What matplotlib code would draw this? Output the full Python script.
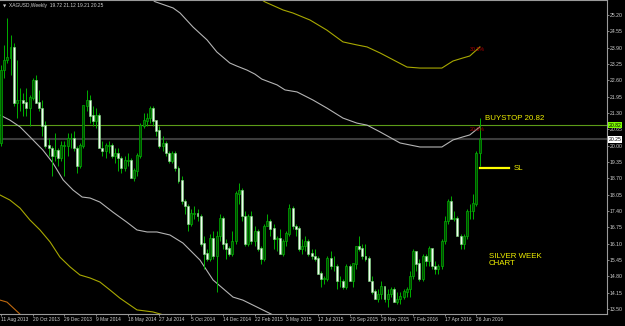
import numpy as np
import matplotlib
matplotlib.use('Agg')
import matplotlib.pyplot as plt
from matplotlib.transforms import blended_transform_factory

plt.rcParams['font.family'] = ['Liberation Sans', 'DejaVu Sans']

# weekly XAGUSD bars, first bar = week of 11 Aug 2013
opens = [20.1, 23.0, 23.4, 23.5, 23.9, 21.7, 21.8, 21.8, 21.7, 21.5,
         21.9, 22.6, 21.7, 21.5, 20.8, 20.0, 19.9, 19.6, 19.8, 19.5,
         20.0, 20.0, 20.3, 20.3, 19.9, 19.2, 20.0, 21.6, 21.8, 21.2,
         21.0, 21.2, 19.9, 19.8, 20.0, 20.0, 19.6, 19.7, 19.5, 19.1,
         19.4, 19.4, 18.7, 19.0, 19.6, 20.8, 21.0, 21.1, 21.5, 21.0,
         20.6, 20.0, 20.1, 19.7, 19.4, 19.7, 19.1, 18.6, 17.8, 17.6,
         16.9, 17.3, 17.3, 17.2, 16.1, 15.7, 15.5, 16.3, 15.6, 16.4,
         17.1, 16.1, 15.9, 15.7, 16.2, 18.1, 18.2, 17.2, 16.1, 17.2,
         16.2, 16.6, 15.9, 15.5, 16.8, 17.0, 16.7, 16.3, 16.3, 15.7,
         16.2, 16.5, 17.5, 16.8, 16.7, 15.9, 16.0, 16.2, 15.7, 15.6,
         15.5, 14.9, 14.7, 14.7, 15.5, 15.2, 15.2, 14.6, 14.6, 14.4,
         15.2, 14.6, 15.3, 16.0, 15.9, 15.6, 15.5, 14.6, 14.2, 13.9,
         14.1, 14.4, 13.9, 14.1, 14.3, 13.8, 13.9, 14.0, 14.2, 14.3,
         14.8, 15.8, 15.3, 14.7, 15.6, 15.4, 15.9, 15.2, 15.1, 15.2,
         16.2, 17.0, 17.8, 17.1, 17.1, 16.4, 16.1, 16.4, 17.4, 17.4,
         17.7, 19.72]
highs = [23.2, 24.0, 25.1, 24.4, 24.1, 23.4, 22.3, 22.1, 22.3, 22.0,
         22.7, 22.8, 22.2, 21.8, 21.0, 20.3, 20.0, 20.5, 19.9, 20.2,
         20.2, 20.5, 20.5, 20.6, 20.0, 20.1, 21.6, 22.2, 22.0, 21.6,
         21.5, 21.3, 20.2, 20.1, 20.2, 20.1, 19.9, 19.9, 19.6, 19.6,
         19.7, 19.5, 19.1, 19.7, 20.9, 21.3, 21.3, 21.6, 21.6, 21.0,
         20.8, 20.4, 20.2, 19.8, 19.8, 19.8, 19.2, 18.8, 17.9, 17.7,
         17.5, 17.6, 17.5, 17.3, 16.4, 15.9, 16.5, 16.6, 16.6, 17.3,
         17.2, 16.3, 16.0, 16.6, 18.2, 18.5, 18.3, 17.4, 17.3, 17.4,
         16.8, 16.7, 16.0, 16.9, 17.3, 17.1, 16.9, 16.4, 16.7, 16.3,
         16.6, 17.7, 17.6, 16.9, 16.8, 16.3, 16.4, 16.3, 15.9, 15.9,
         15.6, 15.0, 14.8, 15.6, 15.8, 15.6, 15.3, 14.8, 14.7, 15.3,
         15.3, 15.3, 16.0, 16.4, 16.1, 16.1, 15.6, 14.8, 14.3, 14.3,
         14.6, 14.4, 14.3, 14.4, 14.4, 14.2, 14.2, 14.3, 14.4, 15.0,
         15.9, 15.8, 15.5, 15.7, 15.7, 16.0, 15.9, 15.4, 15.3, 16.3,
         17.2, 17.9, 18.0, 17.4, 17.2, 16.5, 16.5, 17.5, 17.7, 18.1,
         19.8, 21.12]
lows = [20.0, 22.7, 23.3, 22.8, 21.6, 21.1, 21.4, 21.2, 21.2, 20.8,
        21.8, 21.7, 21.4, 20.4, 19.9, 19.6, 18.8, 19.4, 19.2, 19.4,
        18.8, 19.6, 19.9, 19.8, 18.9, 19.1, 19.9, 21.4, 20.9, 20.8,
        20.7, 19.9, 19.6, 19.5, 19.7, 19.5, 19.3, 19.0, 18.9, 19.0,
        19.2, 18.7, 18.6, 18.8, 19.5, 20.7, 20.8, 20.9, 20.8, 20.4,
        19.9, 19.8, 19.6, 19.3, 19.3, 19.0, 18.5, 17.7, 17.3, 16.6,
        16.8, 17.1, 17.0, 16.0, 15.1, 15.4, 15.4, 15.5, 14.2, 16.2,
        15.9, 15.5, 15.6, 15.6, 16.1, 17.7, 17.0, 16.0, 16.0, 16.1,
        16.0, 15.8, 15.3, 15.4, 16.8, 16.4, 15.9, 15.8, 15.7, 15.6,
        16.0, 16.4, 16.7, 16.4, 15.8, 15.7, 15.8, 15.6, 15.5, 15.4,
        14.9, 14.4, 14.5, 14.6, 15.1, 15.0, 14.3, 14.4, 14.3, 14.3,
        14.6, 14.4, 15.1, 15.8, 15.5, 15.4, 14.6, 14.1, 13.9, 13.8,
        13.9, 13.8, 13.6, 14.0, 13.8, 13.7, 13.7, 13.9, 14.0, 14.0,
        14.7, 15.0, 14.6, 14.6, 15.2, 15.2, 15.1, 14.9, 14.9, 15.1,
        16.1, 16.9, 17.1, 17.0, 16.4, 15.9, 15.9, 16.3, 17.1, 17.1,
        17.6, 19.21]
closes = [23.0, 23.4, 23.5, 23.9, 21.7, 21.8, 21.8, 21.7, 21.5, 21.9,
          22.6, 21.7, 21.5, 20.8, 20.0, 19.9, 19.6, 19.8, 19.5, 20.0,
          20.0, 20.3, 20.3, 19.9, 19.2, 20.0, 21.6, 21.8, 21.2, 21.0,
          21.2, 19.9, 19.8, 20.0, 20.0, 19.6, 19.7, 19.5, 19.1, 19.4,
          19.4, 18.7, 19.0, 19.6, 20.8, 21.0, 21.1, 21.5, 21.0, 20.6,
          20.0, 20.1, 19.7, 19.4, 19.7, 19.1, 18.6, 17.8, 17.6, 16.9,
          17.3, 17.3, 17.2, 16.1, 15.7, 15.5, 16.3, 15.6, 16.4, 17.1,
          16.1, 15.9, 15.7, 16.2, 18.1, 18.2, 17.2, 16.1, 17.2, 16.2,
          16.6, 15.9, 15.5, 16.8, 17.0, 16.7, 16.3, 16.3, 15.7, 16.2,
          16.5, 17.5, 16.8, 16.7, 15.9, 16.0, 16.2, 15.7, 15.6, 15.5,
          14.9, 14.7, 14.7, 15.5, 15.2, 15.2, 14.6, 14.6, 14.4, 15.2,
          14.6, 15.3, 16.0, 15.9, 15.6, 15.5, 14.6, 14.2, 13.9, 14.1,
          14.4, 13.9, 14.1, 14.3, 13.8, 13.9, 14.0, 14.2, 14.3, 14.8,
          15.8, 15.3, 14.7, 15.6, 15.4, 15.9, 15.2, 15.1, 15.2, 16.2,
          17.0, 17.8, 17.1, 17.1, 16.4, 16.1, 16.4, 17.4, 17.4, 17.7,
          19.7, 20.25]

date_labels = ['11 Aug 2013', '20 Oct 2013', '29 Dec 2013', '9 Mar 2014',
               '18 May 2014', '27 Jul 2014', '5 Oct 2014', '14 Dec 2014',
               '22 Feb 2015', '3 May 2015', '12 Jul 2015', '20 Sep 2015',
               '29 Nov 2015', '7 Feb 2016', '17 Apr 2016', '26 Jun 2016']
price_ticks = [13.50, 14.15, 14.80, 15.45, 16.10, 16.75, 17.40, 18.05, 18.70,
               19.35, 20.00, 20.65, 21.30, 21.95, 22.60, 23.25, 23.90, 24.55, 25.20]

# envelope lines (bar index, price)
upper_yel_x = [82.3, 83.3, 89.0, 92.1, 97.5, 102.8, 107.9, 112.3, 115.5, 119.6,
               128.1, 132.2, 139.1, 142.6, 145.7, 147.9, 151.1]
upper_yel_y = [25.80, 25.72, 25.40, 25.28, 25.00, 24.60, 24.13, 24.01, 23.93, 23.69,
               23.13, 23.09, 23.09, 23.37, 23.49, 23.57, 23.93]
upper_gry_x = [47.0, 48.6, 54.3, 56.5, 60.6, 65.0, 68.1, 72.2, 74.4, 77.6, 80.1,
               82.3, 87.1, 89.6, 93.4, 98.4, 102.8, 107.9, 112.3, 115.5, 119.6,
               125.9, 132.2, 136.9, 139.1, 142.6, 145.7, 147.9, 151.1]
upper_gry_y = [25.88, 25.73, 25.48, 25.28, 24.72, 24.21, 23.73, 23.29, 23.17, 23.01, 22.85,
               22.65, 22.42, 22.22, 22.14, 21.82, 21.50, 21.10, 20.90, 20.82, 20.55,
               20.11, 19.95, 19.95, 19.95, 20.23, 20.35, 20.43, 20.75]
lower_gry_x = [-0.3, 2.8, 6.0, 10.1, 13.2, 16.4, 19.6, 22.7, 25.6, 28.1, 31.2,
               35.3, 39.7, 42.9, 46.1, 49.2, 53.3, 57.4, 62.8, 66.9, 73.2, 76.3, 85.8]
lower_gry_y = [21.22, 21.02, 20.75, 20.23, 19.83, 19.31, 18.64, 18.24, 17.96, 17.92, 17.76,
               17.36, 16.96, 16.65, 16.57, 16.57, 16.45, 16.13, 15.45, 14.66, 13.98, 13.86, 13.27]
lower_yel_x = [-0.3, 2.8, 6.0, 9.1, 12.3, 15.5, 18.6, 21.8, 24.9, 28.1, 31.2,
               34.4, 37.5, 42.9, 47.9, 52.4]
lower_yel_y = [18.04, 17.84, 17.52, 17.05, 16.65, 16.17, 15.57, 15.18, 14.86, 14.74, 14.58,
               14.26, 13.94, 13.47, 13.39, 13.23]
lowest_x = [-0.3, 1.9, 6.6]
lowest_y = [13.86, 13.78, 13.23]

buystop = 20.82
last_price = 20.25
stop_loss = 19.11

W, H = 625, 326
fig = plt.figure(figsize=(W / 100, H / 100), dpi=100, facecolor='black')
ax = fig.add_axes([0, 12 / H, 607 / W, 314 / H], facecolor='black')

x = np.arange(len(closes))
o = np.array(opens)
c = np.array(closes)
bull = c >= o

ax.vlines(x, lows, highs, color='#00b000', lw=0.7, zorder=3)
ax.bar(x[bull], np.abs(c - o)[bull] + 0.02, bottom=np.minimum(o, c)[bull], width=0.62,
       color='#004d00', edgecolor='#00b000', lw=0.5, zorder=4)
ax.bar(x[~bull], np.abs(c - o)[~bull] + 0.02, bottom=np.minimum(o, c)[~bull], width=0.62,
       color='#f0fff0', edgecolor='#7cdc7c', lw=0.4, zorder=4)

ax.plot(upper_yel_x, upper_yel_y, color='#a8a800', lw=0.8, zorder=2)
ax.plot(upper_gry_x, upper_gry_y, color='#b4b4b4', lw=0.8, zorder=2)
ax.plot(lower_gry_x, lower_gry_y, color='#b4b4b4', lw=0.8, zorder=2)
ax.plot(lower_yel_x, lower_yel_y, color='#a8a800', lw=0.8, zorder=2)
ax.plot(lowest_x, lowest_y, color='#c06a10', lw=0.8, zorder=2)

ax.axhline(buystop, color='#5c9c18', lw=0.8, zorder=1)
ax.axhline(last_price, color='#3c3c3c', lw=1.5, zorder=1)
ax.plot([151.1, 160.3], [stop_loss, stop_loss], color='#ffff00', lw=1.6, zorder=5)

ytxt = dict(color='#f0f000', fontsize=5.7)
ax.text(152.7, 21.08, 'BUYSTOP 20.82', va='center', **ytxt)
ax.text(161.8, stop_loss, 'SL', va='center', **ytxt)
ax.text(154.0, 15.47, 'SILVER WEEK\nCHART', va='center', linespacing=1.0, **ytxt)
ax.text(148.0, 23.81, '30.5%', color='#b00000', fontsize=3.8, va='center')
ax.text(148.0, 20.65, '20.0%', color='#b00000', fontsize=3.8, va='center')

ax.set_xlim(-0.315, 191.2)
ax.set_ylim(13.307, 25.797)

ax.set_xticks(np.arange(0, 10 * len(date_labels), 10))
ax.set_xticklabels(date_labels, ha='left')
ax.yaxis.tick_right()
ax.set_yticks(price_ticks)
ax.set_yticklabels(['%.2f' % p for p in price_ticks])
ax.tick_params(axis='both', colors='#9a9a9a', labelcolor='#d0d0d0',
               length=1.5, width=0.6, direction='out')
ax.tick_params(axis='y', pad=0.6, labelsize=3.7)
ax.tick_params(axis='x', pad=1.0, labelsize=3.5)

ax.spines['left'].set_visible(False)
for side in ['right', 'bottom', 'top']:
    ax.spines[side].set_color('#9a9a9a')
    ax.spines[side].set_linewidth(0.8)

tr = blended_transform_factory(ax.transAxes, ax.transData)
ax.text(1.003, buystop, '20.82', transform=tr, fontsize=3.7, color='black', va='center',
        bbox=dict(boxstyle='square,pad=0.15', fc='#7cfc00', ec='none'), clip_on=False)
ax.text(1.003, last_price, '20.25', transform=tr, fontsize=3.7, color='black', va='center',
        bbox=dict(boxstyle='square,pad=0.15', fc='white', ec='none'), clip_on=False)

fig.text(3 / W, 1 - 6 / H, '\u25bc', color='#d0d0d0', fontsize=3.0, va='center',
         family='DejaVu Sans')
fig.text(9 / W, 1 - 6 / H, 'XAGUSD,Weekly  19.72 21.12 19.21 20.25', color='#d0d0d0',
         fontsize=3.5, va='center')

fig.savefig('out.png', dpi=100, facecolor='black')
